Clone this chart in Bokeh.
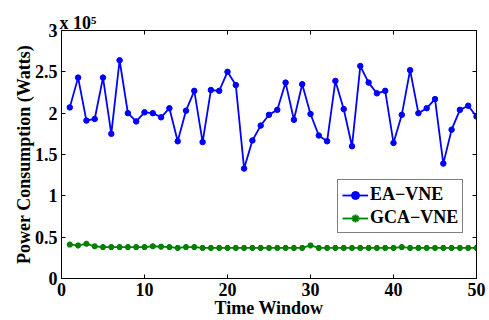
from bokeh.plotting import figure
from bokeh.models import (LinearAxis, FixedTicker, CustomJSTickFormatter, Legend,
                          LegendItem, Range1d, Title)
from bokeh.embed import file_html
from bokeh.resources import INLINE

time_window = list(range(1, 51))
ea_vne = [2.07, 2.43, 1.91, 1.93, 2.43, 1.75, 2.64, 2.00, 1.90, 2.01,
          2.00, 1.95, 2.06, 1.66, 2.03, 2.27, 1.65, 2.28, 2.27, 2.50,
          2.34, 1.33, 1.67, 1.85, 1.98, 2.04, 2.37, 1.92, 2.35, 1.99,
          1.73, 1.66, 2.39, 2.05, 1.60, 2.57, 2.37, 2.24, 2.27, 1.64,
          1.98, 2.52, 2.00, 2.06, 2.17, 1.39, 1.80, 2.04, 2.09, 1.96]
gca_vne = [0.41, 0.40, 0.42, 0.39, 0.38, 0.38, 0.38, 0.38, 0.38, 0.38,
           0.39, 0.385, 0.38, 0.37, 0.38, 0.38, 0.37, 0.37, 0.37, 0.37,
           0.37, 0.37, 0.37, 0.37, 0.37, 0.37, 0.37, 0.37, 0.37, 0.40,
           0.37, 0.37, 0.37, 0.37, 0.37, 0.37, 0.37, 0.37, 0.37, 0.37,
           0.38, 0.37, 0.37, 0.37, 0.37, 0.37, 0.37, 0.37, 0.37, 0.37]
scale = 1e5
ea_w = [v * scale for v in ea_vne]
gca_w = [v * scale for v in gca_vne]
x_ticks = [0, 10, 20, 30, 40, 50]
y_ticks = [0, 0.5e5, 1e5, 1.5e5, 2e5, 2.5e5, 3e5]

FONT = "Liberation Serif"

p = figure(width=489, height=320, output_backend="svg", toolbar_location=None,
           x_range=Range1d(0, 50), y_range=Range1d(0, 3e5),
           min_border_left=61, min_border_right=13, min_border_top=30,
           min_border_bottom=41)
p.grid.visible = False
p.outline_line_color = "black"
p.outline_line_width = 1
p.background_fill_color = "white"
p.border_fill_color = "white"

bottom = p.below[0]
left = p.left[0]
bottom.ticker = FixedTicker(ticks=x_ticks)
left.ticker = FixedTicker(ticks=y_ticks)
left.formatter = CustomJSTickFormatter(code="return (tick/100000).toString();")
bottom.axis_label = "Time Window"
left.axis_label = "Power Consumption (Watts)"

for ax in (bottom, left):
    ax.major_tick_in = 4
    ax.major_tick_out = 0
    ax.minor_tick_line_color = None
    ax.axis_line_color = "black"
    ax.major_label_text_font = FONT
    ax.major_label_text_font_style = "bold"
    ax.major_label_text_color = "black"
    ax.major_label_text_font_size = "18px"
    ax.axis_label_text_font = FONT
    ax.axis_label_text_font_style = "bold"
    ax.axis_label_text_color = "black"
    ax.axis_label_text_font_size = "18px"
bottom.major_label_standoff = 4
bottom.axis_label_standoff = -1
left.major_label_standoff = 4
left.axis_label_standoff = -2

top = LinearAxis(ticker=FixedTicker(ticks=x_ticks), major_label_text_font_size="0px",
                 major_label_standoff=0, major_tick_in=4, major_tick_out=0,
                 minor_tick_line_color=None)
right = LinearAxis(ticker=FixedTicker(ticks=y_ticks), major_label_text_font_size="0px",
                   major_label_standoff=0, major_tick_in=4, major_tick_out=0,
                   minor_tick_line_color=None)
p.add_layout(top, "above")
p.add_layout(right, "right")

BLUE = "#0000ff"
GREEN = "#008000"
l1 = p.line(time_window, ea_w, line_color=BLUE, line_width=1.8)
s1 = p.scatter(time_window, ea_w, marker="circle", size=5.5, fill_color=BLUE, line_color=BLUE)
l2 = p.line(time_window, gca_w, line_color=GREEN, line_width=1.8)
s2 = p.scatter(time_window, gca_w, marker="asterisk", size=6, line_color=GREEN, line_width=2)

legend = Legend(items=[LegendItem(label="EA\u2212VNE", renderers=[l1, s1]),
                       LegendItem(label="GCA\u2212VNE", renderers=[l2, s2])],
                location=(276, 45))
legend.label_text_font = FONT
legend.label_text_font_style = "bold"
legend.label_text_font_size = "18px"
legend.label_text_color = "black"
legend.label_standoff = 2
legend.glyph_width = 26
legend.glyph_height = 20
legend.spacing = 2
legend.padding = 4
legend.margin = 0
legend.border_line_color = "black"
legend.border_line_width = 1
legend.label_height = 20
p.add_layout(legend, "center")

sci = Title(text="x 10\u2075", text_font=FONT, text_font_style="bold",
            text_font_size="18px", text_color="black", align="left",
            offset=-2, standoff=-4)
p.add_layout(sci, "above")

open("out.html", "w").write(file_html(p, INLINE))
